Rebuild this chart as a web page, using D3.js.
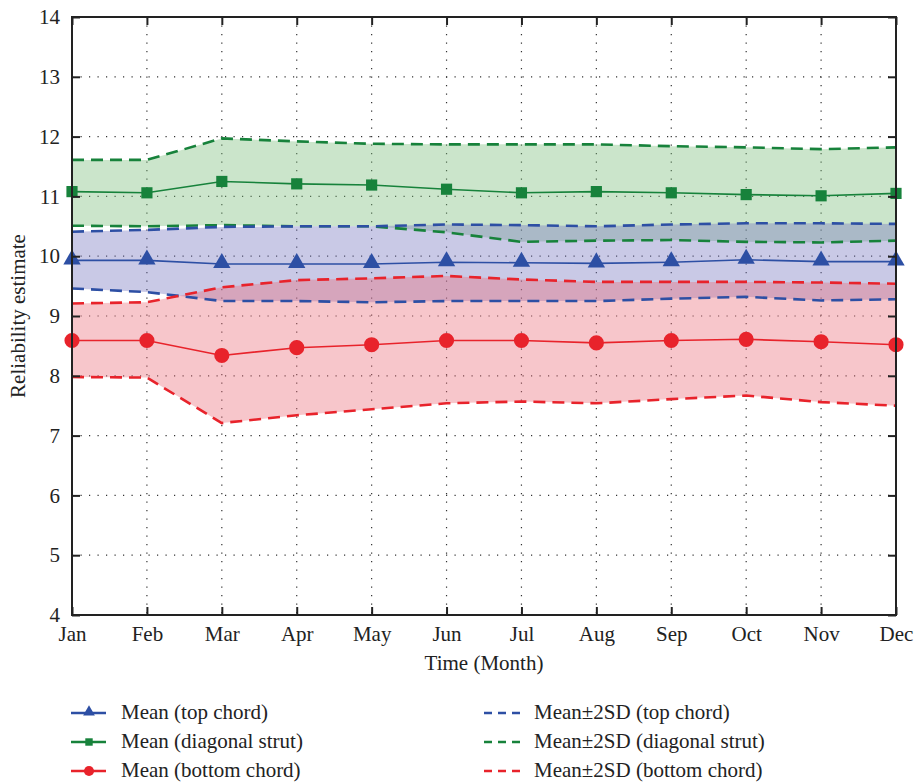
<!DOCTYPE html>
<html lang="en">
<head>
  <meta charset="UTF-8">
  <title>Reliability estimate</title>
  <style>
    body { margin: 0; background: #fff; }
    text { font-family: "Liberation Serif", "DejaVu Serif", serif; fill: #222; }
  </style>
</head>
<body>
<svg id="chart" width="915" height="782"></svg>

<script src="https://cdn.jsdelivr.net/npm/d3@7"></script>
<script>
// months on the x axis
var months = ["Jan","Feb","Mar","Apr","May","Jun","Jul","Aug","Sep","Oct","Nov","Dec"];
var yTicks = [4,5,6,7,8,9,10,11,12,13,14];

// top chord
var topMean  = [9.93, 9.93, 9.87, 9.87, 9.87, 9.90, 9.89, 9.88, 9.90, 9.94, 9.91, 9.91];
var topUpper = [10.41, 10.44, 10.49, 10.50, 10.50, 10.53, 10.52, 10.50, 10.53, 10.55, 10.55, 10.54];
var topLower = [9.46, 9.40, 9.25, 9.25, 9.23, 9.25, 9.25, 9.25, 9.29, 9.32, 9.26, 9.28];

// diagonal strut
var diagMean  = [11.08, 11.06, 11.25, 11.21, 11.19, 11.12, 11.06, 11.08, 11.06, 11.03, 11.01, 11.05];
var diagUpper = [11.61, 11.61, 11.97, 11.92, 11.88, 11.87, 11.87, 11.87, 11.84, 11.82, 11.79, 11.82];
var diagLower = [10.51, 10.50, 10.52, 10.50, 10.50, 10.40, 10.24, 10.26, 10.27, 10.24, 10.23, 10.26];

// bottom chord
var botMean  = [8.59, 8.59, 8.34, 8.47, 8.52, 8.59, 8.59, 8.55, 8.59, 8.61, 8.57, 8.52];
var botUpper = [9.21, 9.23, 9.48, 9.60, 9.63, 9.67, 9.61, 9.57, 9.57, 9.57, 9.56, 9.54];
var botLower = [7.98, 7.97, 7.21, 7.34, 7.44, 7.54, 7.57, 7.54, 7.61, 7.67, 7.56, 7.50];

var series = [
  {name: "diagonal strut", mean: diagMean, upper: diagUpper, lower: diagLower,
   color: "#17823b", fill: "#7dbe7d", symbol: d3.symbolSquare, size: 125, lsize: 55},
  {name: "top chord", mean: topMean, upper: topUpper, lower: topLower,
   color: "#2d4fa4", fill: "#7878c0", symbol: d3.symbolTriangle, size: 130, lsize: 60},
  {name: "bottom chord", mean: botMean, upper: botUpper, lower: botLower,
   color: "#e8232b", fill: "#eb707d", symbol: d3.symbolCircle, size: 180, lsize: 80}
];

var svg = d3.select("#chart");
var mL = 72, mR = 896, mT = 17, mB = 615;
var fs = 21;

var x = d3.scalePoint().domain(months).range([mL, mR]);
var y = d3.scaleLinear().domain([4, 14]).range([mB, mT]);

// grid
var grid = svg.append("g");
grid.selectAll(".hg").data(yTicks.slice(1, -1)).enter().append("line")
  .attr("x1", mL).attr("x2", mR)
  .attr("y1", function (d) { return y(d); }).attr("y2", function (d) { return y(d); })
  .attr("stroke", "#333").attr("stroke-width", 1.2).attr("stroke-dasharray", "1.2,7.3");
grid.selectAll(".vg").data(months.slice(1, -1)).enter().append("line")
  .attr("y1", mT).attr("y2", mB)
  .attr("x1", function (d) { return x(d); }).attr("x2", function (d) { return x(d); })
  .attr("stroke", "#333").attr("stroke-width", 1.2).attr("stroke-dasharray", "1.2,7.3");

// bands
var area = d3.area()
  .x(function (d) { return x(d.m); })
  .y0(function (d) { return y(d.lo); })
  .y1(function (d) { return y(d.hi); });

series.forEach(function (s) {
  var band = months.map(function (m, i) { return {m: m, lo: s.lower[i], hi: s.upper[i]}; });
  svg.append("path").datum(band).attr("d", area)
    .attr("fill", s.fill).attr("fill-opacity", 0.4);
});

var line = d3.line()
  .x(function (d) { return x(d.m); })
  .y(function (d) { return y(d.v); });

function pts(arr) { return months.map(function (m, i) { return {m: m, v: arr[i]}; }); }

// dashed bounds
series.forEach(function (s) {
  [s.upper, s.lower].forEach(function (arr) {
    svg.append("path").datum(pts(arr)).attr("d", line)
      .attr("fill", "none").attr("stroke", s.color)
      .attr("stroke-width", 2.6).attr("stroke-dasharray", "12,7");
  });
});

// mean lines + markers
series.forEach(function (s) {
  svg.append("path").datum(pts(s.mean)).attr("d", line)
    .attr("fill", "none").attr("stroke", s.color).attr("stroke-width", 1.6);
  svg.selectAll(null).data(pts(s.mean)).enter().append("path")
    .attr("d", d3.symbol().type(s.symbol).size(s.size))
    .attr("transform", function (d) {
      var dy = s.symbol === d3.symbolTriangle ? -1 : 0;
      return "translate(" + x(d.m) + "," + (y(d.v) + dy) + ")";
    })
    .attr("fill", s.color);
});

// axes box
var axisCol = "#222";
svg.append("rect").attr("x", mL).attr("y", mT)
  .attr("width", mR - mL).attr("height", mB - mT)
  .attr("fill", "none").attr("stroke", axisCol).attr("stroke-width", 2);

var yAxL = d3.axisLeft(y).tickValues(yTicks).tickSize(-8).tickPadding(12);
var gL = svg.append("g").attr("transform", "translate(" + mL + ",0)").call(yAxL);
var yAxR = d3.axisRight(y).tickValues(yTicks).tickSize(-8).tickFormat("");
var gR = svg.append("g").attr("transform", "translate(" + mR + ",0)").call(yAxR);
var xAxB = d3.axisBottom(x).tickSize(-8).tickPadding(11);
var gB = svg.append("g").attr("transform", "translate(0," + mB + ")").call(xAxB);
var xAxT = d3.axisTop(x).tickSize(-8).tickFormat("");
var gT = svg.append("g").attr("transform", "translate(0," + mT + ")").call(xAxT);

[gL, gR, gB, gT].forEach(function (g) {
  g.select(".domain").remove();
  g.selectAll(".tick line").attr("stroke", axisCol).attr("stroke-width", 2);
  g.selectAll("text").attr("font-family", "Liberation Serif, serif")
    .attr("font-size", fs).attr("fill", "#222");
});

// axis titles
svg.append("text").attr("x", (mL + mR) / 2).attr("y", 670)
  .attr("text-anchor", "middle").attr("font-size", fs).text("Time (Month)");
svg.append("text").attr("transform", "translate(25,316) rotate(-90)")
  .attr("text-anchor", "middle").attr("font-size", fs).text("Reliability estimate");

// legend
var rows = [713, 742, 771];
var legOrder = [series[1], series[0], series[2]];
legOrder.forEach(function (s, i) {
  var ly = rows[i];
  svg.append("line").attr("x1", 71).attr("x2", 106).attr("y1", ly).attr("y2", ly)
    .attr("stroke", s.color).attr("stroke-width", 2.4);
  svg.append("path").attr("d", d3.symbol().type(s.symbol).size(s.lsize))
    .attr("transform", "translate(89," + (ly - (s.symbol === d3.symbolTriangle ? 1 : 0)) + ")")
    .attr("fill", s.color);
  svg.append("text").attr("x", 121).attr("y", ly + 6).attr("font-size", fs)
    .text("Mean (" + s.name + ")");

  svg.append("line").attr("x1", 484).attr("x2", 520).attr("y1", ly).attr("y2", ly)
    .attr("stroke", s.color).attr("stroke-width", 2.4).attr("stroke-dasharray", "8,6");
  svg.append("text").attr("x", 534).attr("y", ly + 6).attr("font-size", fs)
    .text("Mean\u00b12SD (" + s.name + ")");
});
</script>
</body>
</html>
